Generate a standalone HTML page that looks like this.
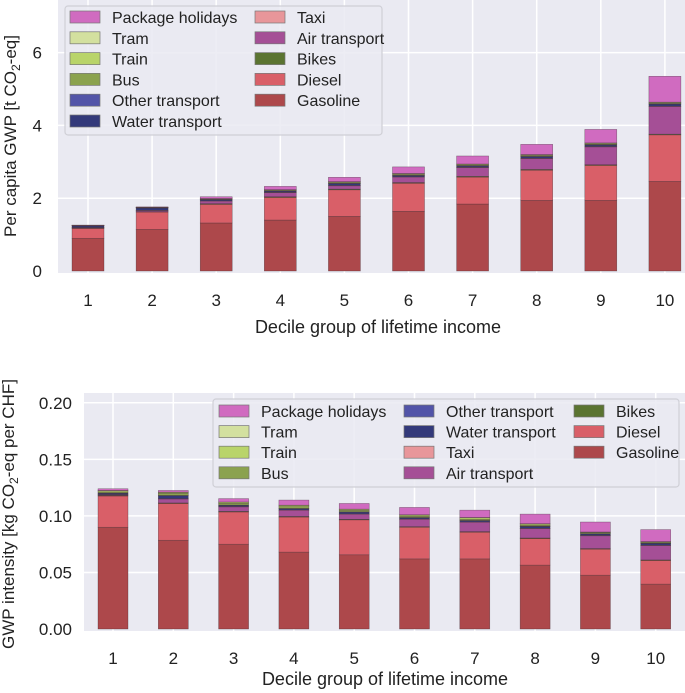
<!DOCTYPE html>
<html><head><meta charset="utf-8">
<style>
html,body{margin:0;padding:0;background:#fff;}
svg{display:block;font-family:"Liberation Sans",Arial,sans-serif;}
</style></head>
<body>
<svg id="fig" width="685" height="693" viewBox="0 0 685 693" xmlns="http://www.w3.org/2000/svg"></svg>
<script>
const categories = ["1","2","3","4","5","6","7","8","9","10"];
const seriesNames = ["Gasoline","Diesel","Bikes","Air transport","Taxi","Water transport","Other transport","Bus","Train","Tram","Package holidays"];
const seriesColors = ["#ad484b","#d95f68","#5b7431","#a54f96","#e8969a","#33397a","#5254a8","#8ba24f","#b9d46a","#d3e09f","#d06bc0"];
// top chart: per capita GWP [t CO2-eq]
const topGasoline = [0.90,1.14,1.32,1.40,1.50,1.64,1.84,1.94,1.94,2.46];
const topDiesel   = [0.27,0.48,0.51,0.62,0.73,0.77,0.74,0.83,0.96,1.28];
const topBikes    = [0.01,0.01,0.02,0.02,0.02,0.02,0.02,0.02,0.02,0.02];
const topAir      = [0.01,0.03,0.07,0.11,0.09,0.15,0.24,0.30,0.49,0.76];
const topTaxi     = [0.005,0.01,0.01,0.01,0.01,0.01,0.01,0.01,0.01,0.01];
const topWater    = [0.04,0.06,0.03,0.03,0.05,0.03,0.03,0.04,0.04,0.05];
const topOther    = [0.005,0.005,0.005,0.01,0.01,0.01,0.01,0.01,0.01,0.01];
const topBus      = [0.005,0.01,0.01,0.02,0.02,0.02,0.02,0.02,0.02,0.02];
const topTrain    = [0.005,0.005,0.01,0.01,0.02,0.02,0.02,0.02,0.02,0.02];
const topTram     = [0.002,0.002,0.005,0.005,0.005,0.01,0.01,0.01,0.01,0.01];
const topPackage  = [0.01,0.01,0.05,0.09,0.12,0.18,0.22,0.28,0.37,0.71];
const topTicks = [0,2,4,6];
// bottom chart: GWP intensity [kg CO2-eq per CHF]
const botGasoline = [0.0900,0.0785,0.0750,0.0680,0.0656,0.0620,0.0620,0.0565,0.0476,0.0397];
const botDiesel   = [0.0276,0.0325,0.0285,0.0310,0.0309,0.0280,0.0236,0.0235,0.0230,0.0209];
const botBikes    = [0.0005,0.0005,0.0005,0.0005,0.0005,0.0005,0.0005,0.0005,0.0005,0.0005];
const botAir      = [0.0005,0.0035,0.0040,0.0055,0.0045,0.0065,0.0083,0.0083,0.0113,0.0127];
const botTaxi     = [0.0003,0.0003,0.0003,0.0003,0.0003,0.0003,0.0003,0.0003,0.0003,0.0003];
const botWater    = [0.0010,0.0025,0.0010,0.0010,0.0015,0.0010,0.0010,0.0015,0.0013,0.0015];
const botOther    = [0.0003,0.0003,0.0003,0.0003,0.0003,0.0003,0.0003,0.0003,0.0003,0.0003];
const botBus      = [0.0010,0.0020,0.0015,0.0015,0.0012,0.0012,0.0012,0.0010,0.0008,0.0008];
const botTrain    = [0.0010,0.0007,0.0010,0.0012,0.0010,0.0010,0.0012,0.0010,0.0005,0.0004];
const botTram     = [0.0003,0.0002,0.0002,0.0002,0.0002,0.0002,0.0002,0.0002,0.0002,0.0002];
const botPackage  = [0.0015,0.0015,0.0030,0.0045,0.0050,0.0065,0.0065,0.0085,0.0088,0.0106];
const botTicks = [0,0.05,0.10,0.15,0.20];
const botTickLabels = ["0.00","0.05","0.10","0.15","0.20"];

const NS="http://www.w3.org/2000/svg";
const svg=document.getElementById('fig');
function mk(tag,attrs,parent){const e=document.createElementNS(NS,tag);for(const k in attrs)e.setAttribute(k,attrs[k]);(parent||svg).appendChild(e);return e;}

function drawChart(cfg){
  const g=mk('g',{});
  
  
  const bg=mk('rect',{x:cfg.x0,y:cfg.yTop,width:cfg.x1-cfg.x0,height:cfg.yZero-cfg.yTop+2,fill:'#eaeaf2'},g);
  
  
  const xs=i=>cfg.c0+i*cfg.step;
  const ys=v=>cfg.yZero-(v-0)*cfg.ppu;
  cfg.ticks.forEach((t,i)=>{
    const y=ys(t);
    if(y>cfg.yTop+1&&y<cfg.yZero-1){const l=mk('line',{x1:cfg.x0,x2:cfg.x1,y1:y,y2:y,stroke:'#fff','stroke-width':1.5},g);
    
    }
    const tx=mk('text',{x:cfg.x0-cfg.tickPad,y:y+6,'text-anchor':'end','font-size':17,fill:'#222'},g);
    tx.textContent=cfg.tickLabels?cfg.tickLabels[i]:String(t);
    
    
  });
  categories.forEach((c,i)=>{
    const l=mk('line',{x1:xs(i),x2:xs(i),y1:cfg.yTop,y2:cfg.yZero+2,stroke:'#fff','stroke-width':1.5},g);
    
    
    const tx=mk('text',{x:xs(i),y:cfg.yZero+35,'text-anchor':'middle','font-size':17,fill:'#222'},g);
    tx.textContent=c;
    
    
  });
  categories.forEach((c,i)=>{
    let base=0;
    cfg.series.forEach((arr,s)=>{
      const v=arr[i];
      const r=mk('rect',{x:xs(i)-cfg.bw/2,y:ys(base+v),width:cfg.bw,height:Math.max(0,ys(base)-ys(base+v)),fill:seriesColors[s],stroke:'#3a2a30','stroke-width':0.5,'stroke-opacity':0.6},g);
      
      
      base+=v;
    });
  });
  const xt=mk('text',{x:cfg.xtX,y:cfg.yZero+cfg.xtDy,'text-anchor':'middle','font-size':18,fill:'#222'},g);
  xt.textContent='Decile group of lifetime income';
  
  
  const yt=mk('text',{x:0,y:0,'text-anchor':'middle','font-size':17,fill:'#222',transform:`translate(${cfg.ytX},${cfg.ytY}) rotate(-90)`},g);
  yt.innerHTML=cfg.ytitle;
  
  
  // legend
  const L=cfg.legend;
  const lb=mk('rect',{x:L.x,y:L.y,width:L.w,height:L.h,rx:3,fill:'#eaeaf2','fill-opacity':0.85,stroke:'#cfcfd6','stroke-width':1.2},g);
  
  
  L.order.forEach((idx,k)=>{
    const col=Math.floor(k/L.rows), row=k%L.rows;
    const ex=L.colX[col], ey=L.firstY+row*L.rowH;
    const e=mk('g',{},g);
    
    
    mk('rect',{x:ex,y:ey-6,width:30,height:12,fill:seriesColors[idx],stroke:'#777','stroke-width':0.7},e);
    const t=mk('text',{x:ex+42,y:ey+6,'font-size':16,fill:'#222'},e);
    t.textContent=seriesNames[idx];
  });
}
const legendOrder=[10,9,8,7,6,5,4,3,2,1,0];
drawChart({name:'top-chart',x0:58,x1:685,yTop:0,yZero:271,ppu:36.4,c0:88,step:64.1,bw:32,tickPad:16,
  series:[topGasoline,topDiesel,topBikes,topAir,topTaxi,topWater,topOther,topBus,topTrain,topTram,topPackage],
  ticks:topTicks,ytX:16,ytY:136,xtX:378,xtDy:62,
  ytitle:'Per capita GWP [t CO<tspan dy="4" font-size="12">2</tspan><tspan dy="-4">-eq]</tspan>',
  legend:{x:65,y:6,w:317,h:129,rows:6,rowH:20.8,firstY:17,colX:[70,255],order:legendOrder}});
drawChart({name:'bottom-chart',x0:84,x1:685,yTop:393,yZero:629,ppu:1131,c0:113,step:60.3,bw:30,tickPad:12,
  series:[botGasoline,botDiesel,botBikes,botAir,botTaxi,botWater,botOther,botBus,botTrain,botTram,botPackage],
  ticks:botTicks,tickLabels:botTickLabels,ytX:14,ytY:514,xtX:385,xtDy:56,
  ytitle:'GWP intensity [kg CO<tspan dy="4" font-size="12">2</tspan><tspan dy="-4">-eq per CHF]</tspan>',
  legend:{x:213,y:399,w:466,h:88,rows:4,rowH:20.6,firstY:411,colX:[219,404,574],order:legendOrder}});
</script>
</body></html>
